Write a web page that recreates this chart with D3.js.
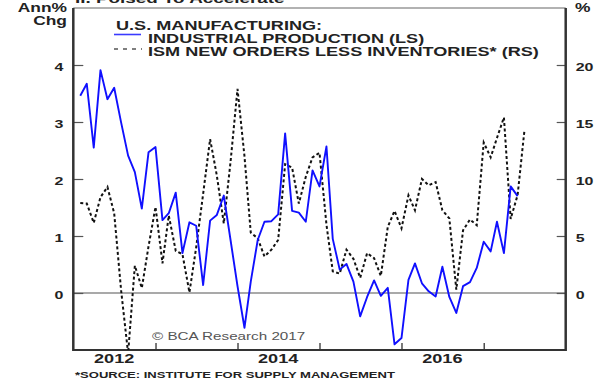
<!DOCTYPE html>
<html>
<head>
<meta charset="utf-8">
<script src="https://cdn.jsdelivr.net/npm/d3@7"></script>
<style>
  body { margin: 0; background: #fff; }
  text { font-family: "Liberation Sans", Arial, sans-serif; }
</style>
</head>
<body>
<svg id="chart" width="616" height="386"></svg>
<script>
// monthly data, first point = Feb 2012
const startMonth = "2012-02";

// industrial production, annual % chg (left scale)
const ipValues = [3.46, 3.67, 2.55, 3.91, 3.40, 3.60, 2.99, 2.41, 2.12, 1.48, 2.47, 2.56,
  1.28, 1.40, 1.76, 0.70, 1.24, 1.18, 0.14, 1.27, 1.37, 1.71, 0.93, 0.12,
  -0.61, 0.20, 0.93, 1.25, 1.26, 1.38, 2.80, 1.44, 1.41, 1.25, 2.15, 1.87,
  2.57, 0.95, 0.41, 0.51, 0.20, -0.41, -0.07, 0.22, -0.05, 0.09, -0.90, -0.79,
  0.23, 0.52, 0.17, 0.03, -0.06, 0.46, -0.07, -0.35, 0.12, 0.19, 0.44, 0.90,
  0.73, 1.25, 0.70, 1.87, 1.70];

// ISM new orders less inventories (right scale), one month longer
const ismValues = [7.9, 7.85, 6.15, 8.4, 9.3, 7.0, 0.2, -5.3, 2.4, 0.43, 4.1, 7.55,
  2.6, 6.8, 3.7, 3.4, 0.05, 4.0, 8.7, 13.5, 10.3, 6.1, 11.5, 17.9,
  12.0, 5.3, 4.8, 3.2, 3.8, 4.65, 11.3, 11.0, 7.85, 10.2, 11.9, 12.3,
  6.0, 1.9, 1.7, 3.8, 3.0, 1.33, 3.5, 3.05, 1.5, 5.8, 7.2, 5.67,
  8.57, 7.26, 10.0, 9.44, 9.73, 7.26, 6.54, 0.29, 5.5, 6.45, 5.95, 13.2,
  11.9, 13.6, 15.4, 6.5, 8.6, 14.2];

const leftTicks = [0, 1, 2, 3, 4];
const rightTicks = [0, 5, 10, 15, 20];
const yearTicks = [2013, 2014, 2015, 2016, 2017];
const yearLabels = ["2012", "2014", "2016"];

const svg = d3.select("#chart");
const sx = 1.45; // the original type is stretched sideways

const box = {left: 73.3, right: 565.7, top: 8, bottom: 350};

const x = d3.scaleTime()
  .domain([new Date(2012, 0, 1), new Date(2018, 0, 1)])
  .range([box.left, box.right]);
const yL = d3.scaleLinear().domain([-1, 5]).range([box.bottom, box.top]);
const yR = d3.scaleLinear().domain([-5, 25]).range([box.bottom, box.top]);

const t0 = d3.timeParse("%Y-%m")(startMonth);
const ip = ipValues.map((v, i) => ({date: d3.timeMonth.offset(t0, i), v}));
const ism = ismValues.map((v, i) => ({date: d3.timeMonth.offset(t0, i), v}));

function label(x0, y0, s, size, anchor, weight, fill) {
  return svg.append("text")
    .attr("transform", `translate(${x0},${y0}) scale(${sx},1)`)
    .attr("text-anchor", anchor)
    .attr("font-size", size)
    .attr("font-weight", weight)
    .attr("fill", fill)
    .text(s);
}

svg.append("clipPath").attr("id", "plot")
  .append("rect")
  .attr("x", box.left).attr("y", box.top)
  .attr("width", box.right - box.left).attr("height", box.bottom - box.top);

// cut-off title at the very top
label(75, 3, "II. Poised To Accelerate", 13, "start", "bold", "#222");

// frame top
svg.append("line")
  .attr("x1", box.left).attr("x2", box.right)
  .attr("y1", box.top).attr("y2", box.top)
  .attr("stroke", "#666").attr("stroke-width", 1.2);

// zero line
svg.append("line")
  .attr("x1", box.left).attr("x2", box.right)
  .attr("y1", yL(0)).attr("y2", yL(0))
  .attr("stroke", "#555").attr("stroke-width", 1.2);

// left axis
const gl = svg.append("g")
  .attr("transform", `translate(${box.left},0)`)
  .call(d3.axisLeft(yL).tickValues(leftTicks).tickSize(-10).tickFormat(d3.format("d")));
gl.select(".domain").remove();
gl.selectAll(".tick line").attr("stroke", "#555").attr("stroke-width", 1.2);
gl.selectAll(".tick text")
  .attr("x", null).attr("dy", null)
  .attr("transform", `translate(-10,5) scale(${sx},1)`)
  .attr("font-size", 11).attr("font-weight", "bold").attr("fill", "#222")
  .attr("font-family", null);

// right axis
const gr = svg.append("g")
  .attr("transform", `translate(${box.right},0)`)
  .call(d3.axisRight(yR).tickValues(rightTicks).tickSize(-9));
gr.select(".domain").remove();
gr.selectAll(".tick line").attr("stroke", "#555").attr("stroke-width", 1.2);
gr.selectAll(".tick text")
  .attr("x", null).attr("dy", null)
  .attr("transform", `translate(10,5) scale(${sx},1)`)
  .attr("font-size", 11).attr("font-weight", "bold").attr("fill", "#222")
  .attr("font-family", null);

// bottom axis ticks (year starts)
const gb = svg.append("g")
  .attr("transform", `translate(0,${box.bottom})`)
  .call(d3.axisBottom(x).tickValues(yearTicks.map(y => new Date(y, 0, 1))).tickSize(-7).tickFormat(""));
gb.select(".domain").remove();
gb.selectAll(".tick line").attr("stroke", "#333").attr("stroke-width", 1.3);

yearLabels.forEach(y => label(x(new Date(+y, 6, 1)), 363, y, 12.5, "middle", "bold", "#222"));

// heavy axis lines
svg.append("line").attr("x1", box.left).attr("x2", box.left)
  .attr("y1", box.top).attr("y2", box.bottom + 1)
  .attr("stroke", "#333").attr("stroke-width", 2.5);
svg.append("line").attr("x1", box.right).attr("x2", box.right)
  .attr("y1", box.top).attr("y2", box.bottom + 1)
  .attr("stroke", "#333").attr("stroke-width", 2.5);
svg.append("line").attr("x1", box.left).attr("x2", box.right)
  .attr("y1", box.bottom).attr("y2", box.bottom)
  .attr("stroke", "#333").attr("stroke-width", 2);

// series
const plot = svg.append("g").attr("clip-path", "url(#plot)");

plot.append("path")
  .datum(ism)
  .attr("fill", "none")
  .attr("stroke", "#111")
  .attr("stroke-width", 2)
  .attr("stroke-dasharray", "3,2.5")
  .attr("d", d3.line().x(d => x(d.date)).y(d => yR(d.v)));

plot.append("path")
  .datum(ip)
  .attr("fill", "none")
  .attr("stroke", "#1010ff")
  .attr("stroke-width", 1.9)
  .attr("stroke-linejoin", "round")
  .attr("d", d3.line().x(d => x(d.date)).y(d => yL(d.v)));

// unit labels
label(67, 12, "Ann%", 12, "end", "bold", "#222");
label(67, 25, "Chg", 12, "end", "bold", "#222");
label(575, 12, "%", 12, "start", "bold", "#222");

// legend
label(116, 30, "U.S. MANUFACTURING:", 12.5, "start", "bold", "#222");
svg.append("line").attr("x1", 114).attr("x2", 141).attr("y1", 34.5).attr("y2", 34.5)
  .attr("stroke", "#3a3aff").attr("stroke-width", 1.6);
label(148, 42.7, "INDUSTRIAL PRODUCTION (LS)", 12.5, "start", "bold", "#222");
svg.append("line").attr("x1", 114).attr("x2", 142).attr("y1", 49).attr("y2", 49)
  .attr("stroke", "#555").attr("stroke-width", 1.6).attr("stroke-dasharray", "4,5");
label(148, 56, "ISM NEW ORDERS LESS INVENTORIES* (RS)", 12.5, "start", "bold", "#222");

label(152, 340, "\u00a9 BCA Research 2017", 10.5, "start", "normal", "#555");
label(75, 378, "*SOURCE: INSTITUTE FOR SUPPLY MANAGEMENT", 9, "start", "bold", "#222");
</script>
</body>
</html>
